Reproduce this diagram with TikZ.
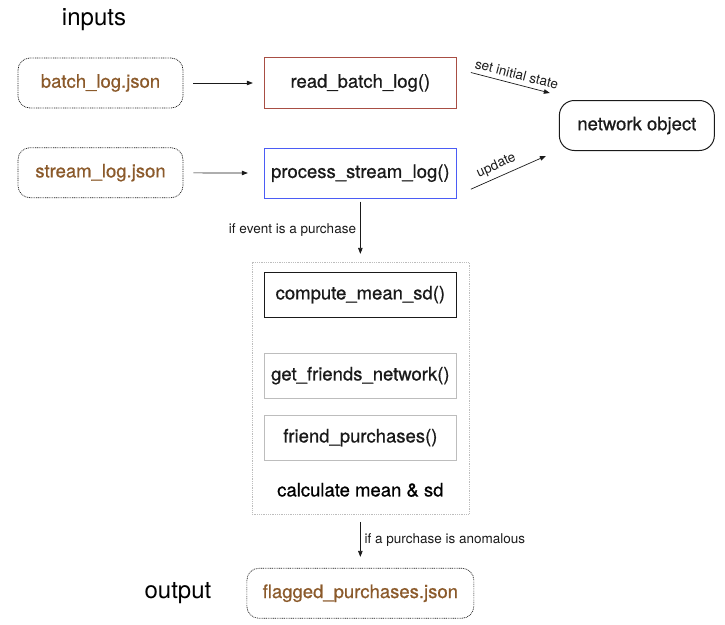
\documentclass[tikz,border=0pt]{standalone}
\usepackage{fontspec}
\setmainfont{TeX Gyre Heros}
\newfontfamily\medfont[FakeBold=0.7]{TeX Gyre Heros}
\usetikzlibrary{positioning,arrows.meta,fit,backgrounds}
\definecolor{ink}{HTML}{1A1A1A}
\definecolor{filec}{HTML}{8B5A2B}
\definecolor{readc}{HTML}{A84E44}
\definecolor{streamc}{HTML}{4B5CF5}
\definecolor{soft}{HTML}{BDBDBD}
\tikzset{
  file/.style={draw=ink, dash pattern=on 0.9pt off 0.9pt, line width=0.7pt,
               rounded corners=12pt, minimum width=165pt, minimum height=50pt,
               text=filec, font=\medfont\fontsize{18.5}{21}\selectfont},
  func/.style={draw=ink, text=ink, line width=1pt, minimum width=192pt,
               minimum height=45pt, font=\medfont\fontsize{18.5}{21}\selectfont},
  readbox/.style={func, draw=readc, minimum height=51pt},
  streambox/.style={func, draw=streamc, minimum height=50pt},
  softbox/.style={func, draw=soft},
  obj/.style={func, rounded corners=15pt, minimum width=155pt, minimum height=50pt},
  outer/.style={draw=soft, dash pattern=on 0.9pt off 0.9pt, line width=0.6pt, inner sep=0pt},
  ar/.style={-{Triangle[length=6pt,width=4.5pt]}, line width=0.7pt, color=ink},
  lbl/.style={font=\fontsize{13.5}{15}\selectfont, text=ink},
  head/.style={font=\fontsize{24}{27}\selectfont, inner sep=0pt},
}
\begin{document}
\begin{tikzpicture}[x=1pt, y=-1pt]
\useasboundingbox (0,0) rectangle (725,624);

% --- INPUTS ---
\node[head] (inputs) at (94,20) {inputs};
\node[file] (batch) at (100.5,83) {batch\_log.json};
\node[file] (stream) [below=39pt of batch] {stream\_log.json};
\node[readbox] (read) [right=80.5pt of batch] {read\_batch\_log()};
\node[streambox] (process) [right=80.5pt of stream, yshift=-0.5pt] {process\_stream\_log()};
\node[obj] (net) [right=102pt of read, yshift=-42.5pt] {network object};
\draw[ar, shorten <=10pt, shorten >=11pt] (batch) -- (read);
\draw[ar, shorten <=10pt, shorten >=16pt] (stream) -- (process);
\draw[ar] ([xshift=14pt,yshift=10.5pt]read.east) --
  node[lbl, above, sloped, pos=0.55, inner sep=4.5pt]{set initial state}
  ([xshift=-9pt,yshift=7pt]net.north west);
\draw[ar] ([xshift=14pt,yshift=-16pt]process.east) --
  node[lbl, above, sloped, pos=0.4, inner sep=4.5pt]{update}
  ([xshift=-13pt,yshift=-5pt]net.south west);

% --- PURCHASE CHECK ---
\node[func] (cms) [below=73pt of process] {compute\_mean\_sd()};
\node[softbox] (gfn) [below=35pt of cms] {get\_friends\_network()};
\node[softbox] (fp) [below=16pt of gfn] {friend\_purchases()};
\node[font=\medfont\fontsize{18.5}{21}\selectfont, minimum width=192pt, minimum height=30pt, inner sep=0pt]
  (calc) [below=14pt of fp] {calculate mean \& sd};
\begin{scope}[on background layer]
\node[outer, fit=(cms)(fp)(calc), inner xsep=12pt, inner ysep=9.5pt] (box) {};
\end{scope}
\draw[ar, shorten <=3pt, shorten >=8pt] (process) --
  node[lbl, left, inner sep=4pt]{if event is a purchase} (box);

% --- OUTPUT ---
\node[file, minimum width=227pt] (flag) [below=53pt of box] {flagged\_purchases.json};
\node[head] (output) [left=35pt of flag] {output};
\draw[ar, shorten <=7pt, shorten >=11pt] (box) --
  node[lbl, right, pos=0.47, inner sep=4pt]{if a purchase is anomalous} (flag);

\end{tikzpicture}
\end{document}
